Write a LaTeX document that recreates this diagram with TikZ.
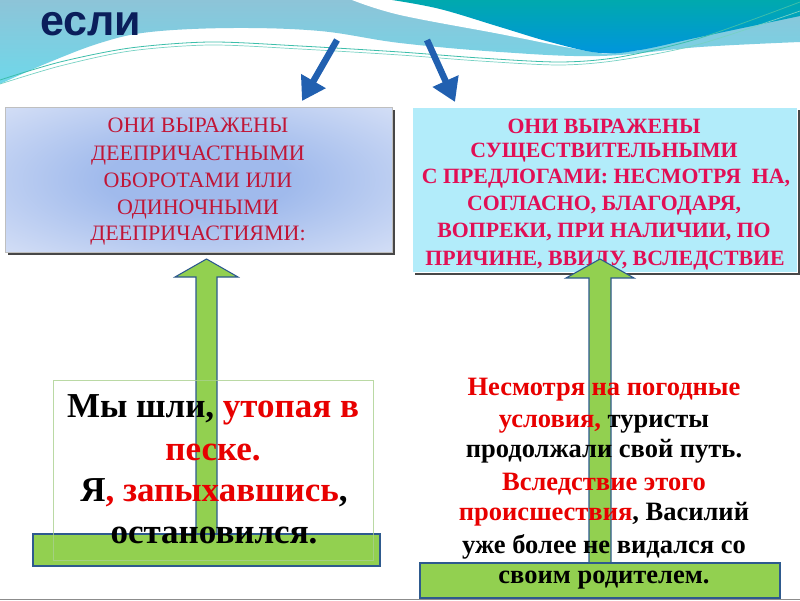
\documentclass[tikz,border=0pt]{standalone}
\usepackage{fontspec}
\setmainfont{Liberation Serif}
\newfontfamily\headfont{Liberation Sans}
\usetikzlibrary{arrows.meta}
\definecolor{wavelight}{RGB}{141,196,216}
\definecolor{wavecyan}{RGB}{110,216,234}
\definecolor{tealtop}{RGB}{0,169,174}
\definecolor{tealbot}{RGB}{0,149,221}
\definecolor{waveline}{RGB}{60,190,170}
\definecolor{headnavy}{RGB}{11,30,91}
\definecolor{arrowblue}{RGB}{33,96,176}
\definecolor{bcen}{RGB}{160,186,236}
\definecolor{bedge}{RGB}{238,241,251}
\definecolor{cyanbox}{RGB}{178,236,250}
\definecolor{ltext}{RGB}{192,22,55}
\definecolor{rtext}{RGB}{225,15,85}
\definecolor{exred}{RGB}{232,0,0}
\definecolor{gfill}{RGB}{146,208,80}
\definecolor{gedge}{RGB}{46,90,142}
\definecolor{gbox}{RGB}{169,208,142}
\pgfdeclareradialshading{boxrad}{\pgfpoint{0bp}{0bp}}{color(0bp)=(bcen); color(12bp)=(bcen); color(48bp)=(bedge); color(80bp)=(bedge)}
\begin{document}
\begin{tikzpicture}[x=1pt,y=-1pt,
  bluearrow/.style={draw=arrowblue, line width=6.5pt, -{Triangle[width=27pt,length=23pt]}},
  greenshape/.style={fill=gfill, draw=gedge, line width=1.1pt, line join=miter},
  ltxt/.style={anchor=base, inner sep=0pt, text=ltext, font=\fontsize{22}{27}\selectfont},
  rtxt/.style={anchor=base, inner sep=0pt, text=rtext, font=\bfseries\fontsize{21.8}{26}\selectfont},
  extxtA/.style={anchor=base, inner sep=0pt, font=\bfseries\fontsize{35}{42}\selectfont},
  extxtB/.style={anchor=base, inner sep=0pt, font=\bfseries\fontsize{26.5}{31}\selectfont},
  shadowbox/.style={fill=black!72},
]
\useasboundingbox (0,0) rectangle (800,600);
\clip (0,0) rectangle (800,600);
\fill[white] (0,0) rectangle (800,600);

% light blue wave region
\shade[top color=wavelight, bottom color=wavecyan]
  (0,0) -- (800,0) -- plot[smooth, tension=0.6] coordinates {(800,42) (700,47) (600,56) (500,52) (400,43) (320,31) (233,28) (150,32) (100,43) (45,64) (0,84)} -- cycle;
% white stripe
\fill[white] plot[smooth, tension=0.6] coordinates {(352,0) (400,15) (500,34) (560,46) (605,54)} -- (640,50) -- (560,20) -- (395,0) -- cycle;
% teal region
\shade[top color=tealtop, bottom color=tealbot]
  (392,0) -- (800,0) -- plot[smooth, tension=0.6] coordinates {(800,16) (700,37) (640,50) (600,53) (550,42) (500,27) (440,9) (392,0)} -- cycle;
% thin wave lines
\draw[waveline, line width=0.8pt] plot[smooth] coordinates {(0,80) (60,62) (130,48) (210,42) (300,46) (400,52) (480,58) (560,62) (620,57) (700,38) (800,2)};
\draw[waveline!70, line width=0.7pt] plot[smooth] coordinates {(0,84) (60,66) (130,51) (210,45) (300,49) (400,55) (480,61) (560,65) (620,60) (700,44) (800,11)};

% heading
\node[anchor=base west, inner sep=0pt, text=headnavy, font=\headfont\bfseries\fontsize{43}{50}\selectfont] (esli) at (40,35) {если};

% boxes with shadows
\fill[shadowbox] (8,110) rectangle (395,255);
\node[draw=black!25, line width=0.6pt, shading=boxrad, minimum width=387pt, minimum height=145pt, inner sep=0pt] (boxL) at (198.5,179.5) {};
\fill[shadowbox] (415,110) rectangle (800,275);
\node[draw=white, fill=cyanbox, line width=1pt, minimum width=385pt, minimum height=165pt, inner sep=0pt] (boxR) at (604.5,189.5) {};

% blue arrows
\coordinate (s1) at (337,40);
\coordinate (t1) at (302,101);
\coordinate (s2) at (427,40);
\coordinate (t2) at (455,102);
\draw[bluearrow] (s1) -- (t1);
\draw[bluearrow] (s2) -- (t2);

% left box text
\node[ltxt] (a1) at (198,132) {ОНИ ВЫРАЖЕНЫ};
\node[ltxt] (a2) at (198,160) {ДЕЕПРИЧАСТНЫМИ};
\node[ltxt] (a3) at (198,187) {ОБОРОТАМИ ИЛИ};
\node[ltxt] (a4) at (198,214) {ОДИНОЧНЫМИ};
\node[ltxt] (a5) at (198,240) {ДЕЕПРИЧАСТИЯМИ:};

% right box text
\node[rtxt] (b1) at (604,133) {ОНИ ВЫРАЖЕНЫ};
\node[rtxt] (b2) at (604,157) {СУЩЕСТВИТЕЛЬНЫМИ};
\node[rtxt] (b3) at (606,183) {С ПРЕДЛОГАМИ: НЕСМОТРЯ\ \ НА,};
\node[rtxt] (b4) at (604,210) {СОГЛАСНО, БЛАГОДАРЯ,};
\node[rtxt] (b5) at (604,237) {ВОПРЕКИ, ПРИ НАЛИЧИИ, ПО};
\node[rtxt] (b6) at (605,265) {ПРИЧИНЕ, ВВИДУ, ВСЛЕДСТВИЕ};

% green arrows
\draw[greenshape] (196,540) -- (196,277) -- (175,277) -- (206.5,259) -- (238,277) -- (217,277) -- (217,540);
\draw[greenshape] (33,534) rectangle (380,566);
\draw[greenshape] (589,570) -- (589,278) -- (566,278) -- (600,259) -- (634,278) -- (611,278) -- (611,570);
\draw[greenshape] (420,563) rectangle (780,598);

% left example box
\node[draw=gbox, draw opacity=0.8, line width=0.8pt, minimum width=320pt, minimum height=180pt, inner sep=0pt] (exL) at (213,470) {};

% left example text
\node[extxtA] (c1) at (213,417) {Мы шли, \textcolor{exred}{утопая в}};
\node[extxtA, text=exred] (c2) at (213,460) {песке.};
\node[extxtA] (c3) at (214,501) {Я\textcolor{exred}{, запыхавшись},};
\node[extxtA] (c4) at (214,543) {остановился.};

% right example text
\node[extxtB, text=exred] (d1) at (604,395) {Несмотря на погодные};
\node[extxtB] (d2) at (604,427) {\textcolor{exred}{условия,} туристы};
\node[extxtB] (d3) at (604,457) {продолжали свой путь.};
\node[extxtB, text=exred] (d4) at (604,490) {Вследствие этого};
\node[extxtB] (d5) at (604,520) {\textcolor{exred}{происшествия}, Василий};
\node[extxtB] (d6) at (604,553) {уже более не видался со};
\node[extxtB] (d7) at (604,583) {своим родителем.};

\draw[black!45, line width=1pt] (0,599.5) -- (800,599.5);
\end{tikzpicture}
\end{document}
